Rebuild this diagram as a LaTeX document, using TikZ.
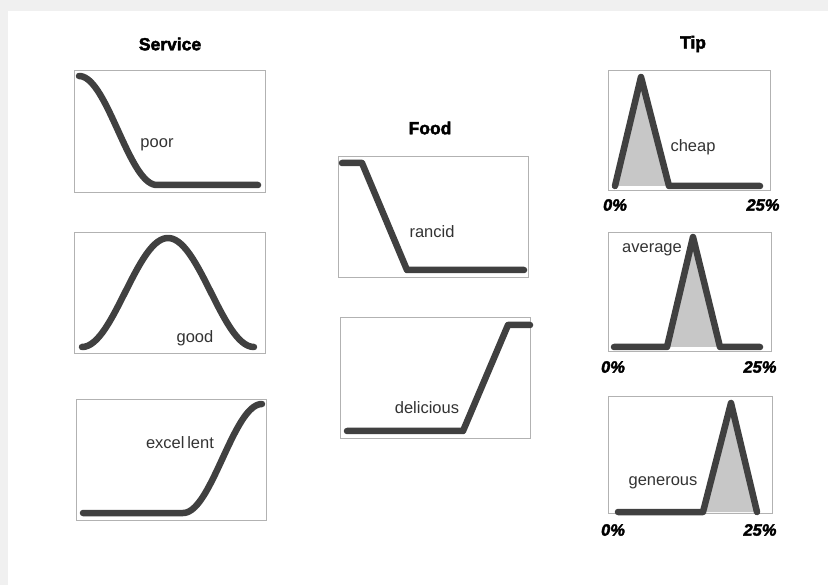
\documentclass[tikz,border=0pt]{standalone}
\usepackage{fontspec}
\setmainfont{Liberation Sans}
\newfontfamily\titlefont[FakeBold=2.6]{Liberation Sans Bold}
\newfontfamily\pctfont[FakeBold=2.2]{Liberation Sans Bold Italic}
\begin{document}
\begin{tikzpicture}[x=1pt,y=-1pt,
  frame/.style={draw=black!30,line width=0.9pt},
  mf/.style={draw=black!75,line width=6.5pt,line cap=round,line join=round},
  area/.style={fill=black!22},
  lbl/.style={inner sep=0pt,font=\fontsize{16.5}{18}\selectfont,text=black!80},
  heading/.style={inner sep=0pt,font=\titlefont\fontsize{17.5}{20}\selectfont},
  pct/.style={inner sep=0pt,font=\pctfont\fontsize{16.5}{18}\selectfont}]
% page and soft edge shading
\useasboundingbox (0,0) rectangle (828,585);
\fill[white] (0,0) rectangle (828,585);
\fill[black!6] (0,0) rectangle (828,11);
\fill[black!6] (0,0) rectangle (8,585);

% ---------- Service ----------
\node[heading] (tService) at (170,44) {Service};
\draw[frame] (74,70) rectangle (265,192);
\draw[mf] plot[domain=0:1,samples=40] ({79+78*\x},{76+109*(1-cos(180*\x))/2}) -- (258,185);
\node[lbl] (lPoor) at (157,145) {poor};

\draw[frame] (74,232) rectangle (265,353);
\draw[mf] plot[domain=-1:1,samples=60] ({168+86*\x},{347-109*(1+cos(180*\x))/2});
\node[lbl] (lGood) at (195,338) {good};

\draw[frame] (76,399) rectangle (266,520);
\draw[mf] (83,513) -- plot[domain=0:1,samples=40] ({183+79*\x},{513-109*(1-cos(180*\x))/2});
\node[lbl] (lExc) at (180,443) {excel\,lent};

% ---------- Food ----------
\node[heading] (tFood) at (430,128) {Food};
\draw[frame] (338,156) rectangle (528,277);
\draw[mf] (342,163) -- (362,163) -- (407,270) -- (524,270);
\node[lbl] (lRancid) at (432,232) {rancid};

\draw[frame] (340,317) rectangle (530,438);
\draw[mf] (347,431) -- (463,431) -- (508,325) -- (530,325);
\node[lbl] (lDel) at (427,408) {delicious};

% ---------- Tip ----------
\node[heading] (tTip) at (693,44) {Tip};
\draw[frame] (608,70) rectangle (770,190);
\fill[area] (615,186) -- (641,77) -- (669,186) -- cycle;
\draw[mf] (615,186) -- (641,77) -- (669,186) -- (760,186);
\node[lbl] (lCheap) at (693,147) {cheap};
\node[pct] (pA0) at (615,205) {0\%};
\node[pct] (pA25) at (763,205) {25\%};

\draw[frame] (608,232) rectangle (771,351);
\fill[area] (667,347) -- (693,237) -- (720,347) -- cycle;
\draw[mf] (614,347) -- (667,347) -- (693,237) -- (720,347) -- (760,347);
\node[lbl,fill=white,inner sep=1pt] (lAvg) at (652,250) {average};
\node[pct] (pB0) at (613,367) {0\%};
\node[pct] (pB25) at (760,367) {25\%};

\draw[frame] (608,396) rectangle (772,513);
\fill[area] (703,512) -- (731,403) -- (757,512) -- cycle;
\draw[mf] (618,512) -- (703,512) -- (731,403) -- (757,512);
\node[lbl] (lGen) at (663,483) {generous};
\node[pct] (pC0) at (613,530) {0\%};
\node[pct] (pC25) at (760,530) {25\%};
\end{tikzpicture}
\end{document}
